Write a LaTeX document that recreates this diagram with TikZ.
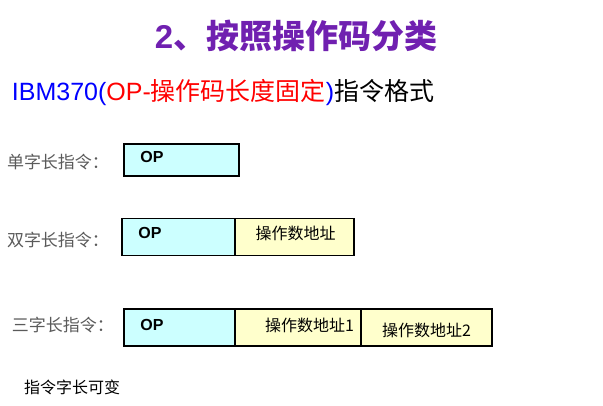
\documentclass[tikz,border=0pt]{standalone}
\usepackage{fontspec}
\setmainfont{Liberation Sans}
\newfontfamily\cjk{Noto Sans CJK SC}
\usetikzlibrary{positioning}
\definecolor{TPurple}{HTML}{7020B0}
\definecolor{FCyan}{HTML}{CCFFFF}
\definecolor{FYellow}{HTML}{FFFFCC}
\definecolor{LGray}{HTML}{5A5A5A}

\begin{document}
\begin{tikzpicture}[
  x=1pt,y=-1pt,
  every node/.style={inner sep=0pt,outer sep=0pt},
  opfield/.style={draw,line width=1.4pt,fill=FCyan,minimum height=#1},
  adfield/.style={draw,line width=1.4pt,fill=FYellow,minimum height=#1},
  rowlbl/.style={anchor=west,font=\fontsize{17}{17}\selectfont\cjk,color=LGray},
  optxt/.style={font=\fontsize{16}{16}\selectfont\bfseries},
  adtxt/.style={font=\fontsize{16}{16}\selectfont\cjk}
]
  \useasboundingbox (0,0) rectangle (603,405);

  \node[font=\fontsize{33}{33}\selectfont\bfseries,color=TPurple] (title) at (296,36)
    {2{\cjk 、按照操作码分类}};
  \node[anchor=west,font=\fontsize{25}{25}\selectfont] (sub) at (12,92)
    {\textcolor{blue}{IBM370(}\textcolor{red}{OP-{\cjk 操作码长度固定}}\textcolor{blue}{)}{\cjk 指令格式}};

  % single word
  \node[rowlbl] (l1) at (7,162) {单字长指令：};
  \node[opfield=32pt,minimum width=115pt] (op1) at (181.5,160) {};
  \node[optxt] (t1) at (152,157) {OP};

  % double word
  \node[rowlbl] (l2) at (7,240) {双字长指令：};
  \node[opfield=36.5pt,minimum width=113pt] (op2) at (178.5,237) {};
  \node[adfield=36.5pt,minimum width=119pt,right=0pt of op2] (ad2) {};
  \node[optxt] (t2) at (150,233) {OP};
  \node[adtxt] (a2) at (295.5,233) {操作数地址};

  % triple word
  \node[rowlbl] (l3) at (12,325) {三字长指令：};
  \node[opfield=37pt,minimum width=111pt] (op3) at (179.5,327.5) {};
  \node[adfield=37pt,minimum width=126pt,right=0pt of op3] (ad31) {};
  \node[adfield=37pt,minimum width=131pt,right=0pt of ad31] (ad32) {};
  \node[optxt] (t3) at (152,325) {OP};
  \node[adtxt] (a31) at (309.5,325) {操作数地址1};
  \node[adtxt] (a32) at (426.5,330) {操作数地址2};

  \node[anchor=west,font=\fontsize{16}{16}\selectfont\cjk] (note) at (24,387) {指令字长可变};
\end{tikzpicture}
\end{document}
